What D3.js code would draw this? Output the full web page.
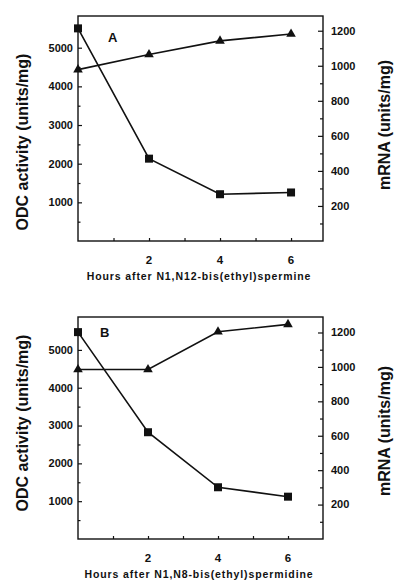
<!DOCTYPE html>
<html>
<head>
<meta charset="utf-8">
<script src="https://cdn.jsdelivr.net/npm/d3@7"></script>
<style>
  html, body { margin: 0; padding: 0; background: #fff; }
  svg { display: block; font-family: "Liberation Sans", Arial, sans-serif; }
</style>
</head>
<body>
<svg id="chart" width="395" height="583"></svg>
<script>
// hours after treatment
const hours = [0, 2, 4, 6]

// panel A: N1,N12-bis(ethyl)spermine
const odcA = [5500, 2130, 1210, 1255]
const mrnaA = [978, 1064, 1142, 1181]

// panel B: N1,N8-bis(ethyl)spermidine
const odcB = [5470, 2823, 1368, 1119]
const mrnaB = [985, 985, 1204, 1247]

const xTicks = [2, 4, 6]
const leftTicks = [1000, 2000, 3000, 4000, 5000]
const rightTicks = [200, 400, 600, 800, 1000, 1200]

const panels = [
  { label: 'A', odc: odcA, mrna: mrnaA, xTitle: 'Hours after N1,N12-bis(ethyl)spermine',
    top: 16, bottom: 241, xMax: 6.9, yMax: 5820, rMax: 1284, lTitleY: 142, rTitleY: 125,
    labelX: 108, labelY: 42 },
  { label: 'B', odc: odcB, mrna: mrnaB, xTitle: 'Hours after N1,N8-bis(ethyl)spermidine',
    top: 317, bottom: 539, xMax: 7.0, yMax: 5870, rMax: 1290, lTitleY: 423, rTitleY: 431,
    labelX: 100, labelY: 337 }
]

const svg = d3.select('#chart')
const left = 78, right = 323

panels.forEach(p => {
  const g = svg.append('g')

  const x = d3.scaleLinear().domain([0, p.xMax]).range([left, right])
  const y = d3.scaleLinear().domain([0, p.yMax]).range([p.bottom, p.top])
  const yr = d3.scaleLinear().domain([0, p.rMax]).range([p.bottom, p.top])

  // frame
  g.append('rect')
    .attr('x', left).attr('y', p.top)
    .attr('width', right - left).attr('height', p.bottom - p.top)
    .attr('fill', 'none').attr('stroke', '#111').attr('stroke-width', 1.4)

  // left axis, ticks pointing inward
  const ly = g.append('g').attr('transform', `translate(${left},0)`)
    .call(d3.axisRight(y).tickValues(d3.range(500, p.yMax, 500)).tickSize(3).tickFormat(''))
  ly.select('.domain').remove()
  ly.selectAll('line').attr('stroke', '#111').attr('stroke-width', 1.2)
    .attr('x2', d => d % 1000 === 0 ? 4 : 2.5)
  g.selectAll('.ltick').data(leftTicks).join('text')
    .attr('x', left - 5).attr('y', d => y(d)).attr('dy', '0.35em')
    .attr('text-anchor', 'end').attr('font-size', 11).attr('font-weight', 'bold')
    .attr('fill', '#111').text(d => d)

  // right axis, ticks pointing inward
  const ry = g.append('g').attr('transform', `translate(${right},0)`)
    .call(d3.axisLeft(yr).tickValues(d3.range(100, p.rMax, 100)).tickSize(3).tickFormat(''))
  ry.select('.domain').remove()
  ry.selectAll('line').attr('stroke', '#111').attr('stroke-width', 1.2)
    .attr('x2', d => d % 200 === 0 ? -5 : -3)
  g.selectAll('.rtick').data(rightTicks).join('text')
    .attr('x', right + 8).attr('y', d => yr(d)).attr('dy', '0.35em')
    .attr('text-anchor', 'start').attr('font-size', 11).attr('font-weight', 'bold')
    .attr('fill', '#111').text(d => d)

  // x axis, ticks pointing inward
  const xa = g.append('g').attr('transform', `translate(0,${p.bottom})`)
    .call(d3.axisTop(x).tickValues([1, 2, 3, 4, 5, 6]).tickSize(3).tickFormat(''))
  xa.select('.domain').remove()
  xa.selectAll('line').attr('stroke', '#111').attr('stroke-width', 1.2)
  g.selectAll('.xtick').data(xTicks).join('text')
    .attr('x', d => x(d)).attr('y', p.bottom + 23)
    .attr('text-anchor', 'middle').attr('font-size', 11.5).attr('font-weight', 'bold')
    .attr('fill', '#111').text(d => d)

  // axis titles
  g.append('text')
    .attr('x', 199).attr('y', p.bottom + 39)
    .attr('text-anchor', 'middle').attr('font-size', 10.5).attr('font-weight', 'bold')
    .attr('letter-spacing', 0.9).attr('fill', '#111').text(p.xTitle)
  g.append('text')
    .attr('transform', `translate(28,${p.lTitleY}) rotate(-90)`)
    .attr('text-anchor', 'middle').attr('font-size', 16).attr('font-weight', 'bold')
    .attr('fill', '#111').text('ODC activity (units/mg)')
  g.append('text')
    .attr('transform', `translate(390,${p.rTitleY}) rotate(-90)`)
    .attr('text-anchor', 'middle').attr('font-size', 16).attr('font-weight', 'bold')
    .attr('fill', '#111').text('mRNA (units/mg)')

  // panel label
  g.append('text')
    .attr('x', p.labelX).attr('y', p.labelY)
    .attr('font-size', 13).attr('font-weight', 'bold').attr('fill', '#111').text(p.label)

  // ODC activity line (squares)
  const odcLine = d3.line().x((d, i) => x(hours[i])).y(d => y(d))
  g.append('path').datum(p.odc).attr('d', odcLine)
    .attr('fill', 'none').attr('stroke', '#111').attr('stroke-width', 1.6)
  g.selectAll('.sq').data(p.odc).join('rect')
    .attr('x', (d, i) => x(hours[i]) - 4).attr('y', d => y(d) - 4)
    .attr('width', 8).attr('height', 8).attr('fill', '#111')

  // mRNA line (triangles)
  const mLine = d3.line().x((d, i) => x(hours[i])).y(d => yr(d))
  g.append('path').datum(p.mrna).attr('d', mLine)
    .attr('fill', 'none').attr('stroke', '#111').attr('stroke-width', 1.6)
  g.selectAll('.tri').data(p.mrna).join('path')
    .attr('transform', (d, i) => `translate(${x(hours[i])},${yr(d)})`)
    .attr('d', d3.symbol(d3.symbolTriangle, 40))
    .attr('fill', '#111')
})
</script>
</body>
</html>
